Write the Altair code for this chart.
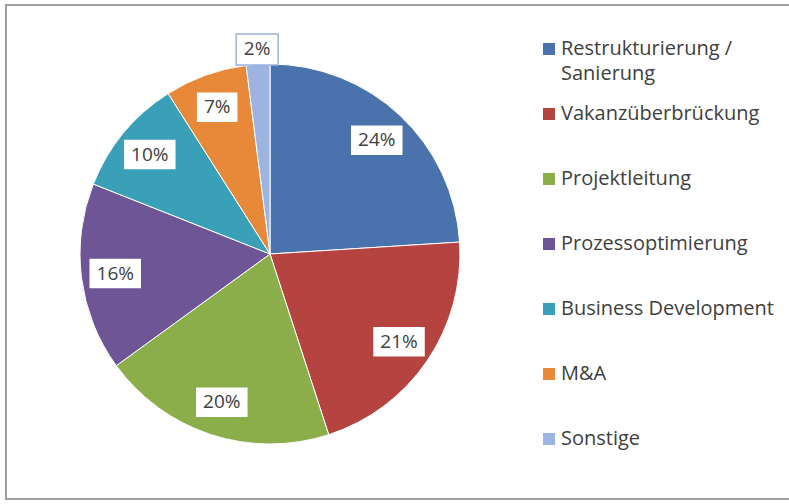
import altair as alt
import pandas as pd

categories = [
    "Restrukturierung / Sanierung",
    "Vakanzüberbrückung",
    "Projektleitung",
    "Prozessoptimierung",
    "Business Development",
    "M&A",
    "Sonstige",
]
legend_labels = [
    "Restrukturierung /\nSanierung",
    "Vakanzüberbrückung",
    "Projektleitung",
    "Prozessoptimierung",
    "Business Development",
    "M&A",
    "Sonstige",
]
shares = [24, 21, 20, 16, 10, 7, 2]
percent_labels = ["24%", "21%", "20%", "16%", "10%", "7%", "2%"]
colors = ["#4A72AC", "#B5433F", "#8BAE4A", "#6E5696", "#3AA0B8", "#E8893A", "#9DB3E0"]

df = pd.DataFrame({
    "cat": categories,
    "legend": legend_labels,
    "share": shares,
    "pct": percent_labels,
    "idx": list(range(len(categories))),
})

CX, CY, R = 264, 249, 190
LR = 156
FONT = "Open Sans"
TXT = "#404040"

color_scale = alt.Scale(domain=categories, range=colors)

base = (
    alt.Chart(df)
    .transform_window(cum="sum(share)", sort=[alt.SortField(field="idx", order="ascending")])
    .transform_joinaggregate(total="sum(share)")
    .transform_calculate(
        mid="(datum.cum - datum.share/2)/datum.total*2*PI",
        lr=f"datum.share/datum.total < 0.05 ? {R + 15} : {LR}",
    )
    .transform_calculate(
        lx=f"{CX} + datum.lr*sin(datum.mid)",
        ly=f"{CY} - datum.lr*cos(datum.mid)",
        bw="length(datum.pct)*11 + 20",
        gy="44 + 65*datum.idx",
    )
    .transform_calculate(
        bx1="datum.lx - datum.bw/2",
        bx2="datum.lx + datum.bw/2",
        by1="datum.ly - 15.5",
        by2="datum.ly + 15.5",
    )
)

frame = base.mark_rect(fill=None, stroke="#a0a0a0", strokeWidth=1.5).encode(
    x=alt.value(0), x2=alt.value(820), y=alt.value(0), y2=alt.value(494)
)

pie = base.mark_arc(outerRadius=R, x=CX, y=CY, stroke="white", strokeWidth=1).encode(
    theta=alt.Theta("share:Q", stack=True),
    color=alt.Color("cat:N", scale=color_scale, legend=None),
    order=alt.Order("idx:Q"),
)

boxes = base.mark_rect(fill="white", strokeWidth=1.5).encode(
    x=alt.X("bx1:Q", scale=None),
    x2="bx2:Q",
    y=alt.Y("by1:Q", scale=None),
    y2="by2:Q",
    stroke=alt.Stroke("cat:N", scale=color_scale, legend=None),
)

labels = base.mark_text(font=FONT, fontSize=19, color=TXT).encode(
    x=alt.X("lx:Q", scale=None),
    y=alt.Y("ly:Q", scale=None),
    text="pct:N",
)

leg_sq = base.mark_square(size=144, opacity=1, filled=True).encode(
    x=alt.value(543),
    y=alt.Y("gy:Q", scale=None),
    color=alt.Color("cat:N", scale=color_scale, legend=None),
)

leg_txt = base.mark_text(
    align="left", font=FONT, fontSize=20, lineBreak="\n", lineHeight=25, color=TXT
).encode(
    x=alt.value(555),
    y=alt.Y("gy:Q", scale=None),
    text="legend:N",
)

chart = (
    alt.layer(frame, pie, boxes, labels, leg_sq, leg_txt)
    .properties(
        width=783,
        height=494,
        padding={"left": 6, "top": 5, "right": 0, "bottom": 5},
        autosize="none",
        background="white",
    )
    .configure_view(stroke=None)
)

chart.save("out.html", embed_options={"renderer": "svg", "actions": False})
